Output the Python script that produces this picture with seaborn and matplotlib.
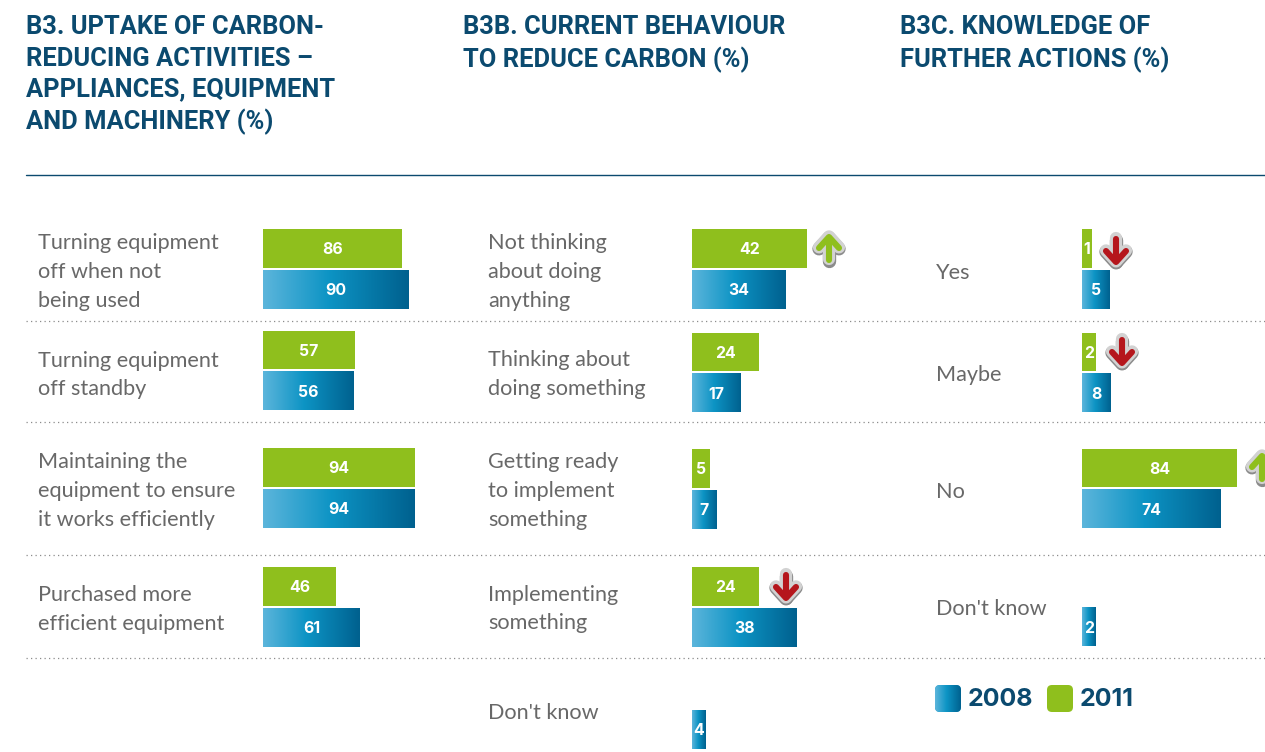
import numpy as np
import pandas as pd
import seaborn as sns
import matplotlib
matplotlib.use("Agg")
import matplotlib.pyplot as plt
from matplotlib.image import BboxImage
from matplotlib.patches import FancyBboxPatch

# ---------- data ----------
YEARS = ["2011", "2008"]

p1_title = "B3. UPTAKE OF CARBON-\nREDUCING ACTIVITIES –\nAPPLIANCES, EQUIPMENT\nAND MACHINERY (%)"
p1_labels = ["Turning equipment\noff when not\nbeing used", "Turning equipment\noff standby",
             "Maintaining the\nequipment to ensure\nit works efficiently", "Purchased more\nefficient equipment"]
p1_2011 = [86, 57, 94, 46]
p1_2008 = [90, 56, 94, 61]

p2_title = "B3B. CURRENT BEHAVIOUR\nTO REDUCE CARBON (%)"
p2_labels = ["Not thinking\nabout doing\nanything", "Thinking about\ndoing something",
             "Getting ready\nto implement\nsomething", "Implementing\nsomething", "Don't know"]
p2_2011 = [42, 24, 5, 24, None]
p2_2008 = [34, 17, 7, 38, 4]

p3_title = "B3C. KNOWLEDGE OF\nFURTHER ACTIONS (%)"
p3_labels = ["Yes", "Maybe", "No", "Don't know"]
p3_2011 = [1, 2, 84, None]
p3_2008 = [5, 8, 74, 2]

# ---------- layout (pixels) ----------
W, H = 1265, 752
GREEN = "#8fbf1d"
NAVY = "#0b4a6f"
GREY = "#686868"
RED = "#b5161c"
GRAD = np.array([[0.36, 0.71, 0.86], [0.05, 0.58, 0.77], [0.0, 0.38, 0.56]])
TITLE_FONT = "Roboto"
BODY_FONT = "Lato"

panels = [
    dict(title=p1_title, labels=p1_labels, y11=p1_2011, y08=p1_2008,
         title_x=26, label_x=38, bar_x=263,
         centers=[269, 370.5, 488, 607],
         label_y=[272, 375, 491, 609.5],
         knots=([0, 46, 56, 61, 94, 100], [0, 73, 91, 97, 152, 162])),
    dict(title=p2_title, labels=p2_labels, y11=p2_2011, y08=p2_2008,
         title_x=463, label_x=488, bar_x=692,
         centers=[269, 372.5, 489, 607, 709],
         label_y=[272, 374.5, 491, 609, 713],
         knots=([0, 4, 7, 17, 42, 100], [0, 14, 25, 49, 115, 275])),
    dict(title=p3_title, labels=p3_labels, y11=p3_2011, y08=p3_2008,
         title_x=900, label_x=936, bar_x=1082,
         centers=[269, 372.5, 488.5, 606.5],
         label_y=[273, 375, 492, 609],
         knots=([0, 1, 2, 5, 8, 74, 84, 100], [0, 10, 14, 28, 29, 139, 155, 185])),
]

sns.set_theme(style="white")
fig = plt.figure(figsize=(W / 100, H / 100), dpi=100, facecolor="white")

overlay = fig.add_axes([0, 0, 1, 1], zorder=5)
overlay.set_xlim(0, W)
overlay.set_ylim(H, 0)
overlay.set_axis_off()


def gradient():
    t = np.linspace(0, 1, 128)
    return np.stack([np.interp(t, [0, 0.45, 1], GRAD[:, c]) for c in range(3)], axis=1)[None, :, :]


def shade(ax, bbox, clip=None, zorder=3):
    img = BboxImage(bbox, interpolation="bilinear", zorder=zorder)
    img.set_data(gradient())
    ax.add_artist(img)
    if clip is not None:
        img.set_clip_path(clip)
    return img


for p in panels:
    d, px = p["knots"]
    for cy, a, b in zip(p["centers"], p["y11"], p["y08"]):
        ax = fig.add_axes([p["bar_x"] / W, 1 - (cy + 41) / H, px[-1] / W, 82 / H], zorder=2)
        df = pd.DataFrame({"year": YEARS, "value": [a, b]}).dropna()
        sns.barplot(data=df, y="year", x="value", order=YEARS, hue="year", hue_order=YEARS,
                    palette={"2011": GREEN, "2008": "#0e93c4"}, width=0.93, saturation=1,
                    legend=False, dodge=False, orient="h", linewidth=0, ax=ax)
        ax.set_xscale("function", functions=(lambda v, d=d, px=px: np.interp(v, d, px),
                                             lambda v, d=d, px=px: np.interp(v, px, d)))
        ax.set_xlim(d[0], d[-1])
        ax.set_ylim(1.5, -0.5)
        ax.set_axis_off()
        for patch in ax.patches:
            w = patch.get_width()
            if not np.isfinite(w) or w == 0:
                continue
            if abs(patch.get_y() + patch.get_height() / 2 - 1) < 0.1:
                shade(ax, patch.get_window_extent())
            ax.annotate(f"{w:.0f}", xy=(0.5, 0.47), xycoords=patch, ha="center", va="center",
                        color="white", fontsize=11.4, fontweight="bold", zorder=4,
                        family="Inter")
    overlay.text(p["title_x"], 15.5, p["title"], va="top", ha="left", color=NAVY,
                 family=TITLE_FONT, fontweight="bold", fontsize=18.4, linespacing=1.37)
    for ly, lab in zip(p["label_y"], p["labels"]):
        overlay.text(p["label_x"], ly, lab, va="center", ha="left", color=GREY,
                     family=BODY_FONT, fontsize=15.6, linespacing=1.54)

# rules
overlay.plot([26, W], [174.5, 174.5], color=NAVY, lw=1.0)
for y in [320.5, 421.5, 554.5, 657.5]:
    overlay.plot([26, W], [y, y], color="#8c8c8c", lw=0.9, ls=(0, (1, 2.6)))


def arrow(cx, cy, up, colour):
    s = -1 if up else 1
    shaft = ([cx, cx], [cy - s * 11, cy + s * 11])
    head = ([cx - 10, cx, cx + 10], [cy + s * 1, cy + s * 12, cy + s * 1])
    for dy, col, lw in [(0.8, "#8b8b8b", 9.6), (-0.6, "#d2d2d2", 8.8), (0, colour, 4.4)]:
        for xs, ys in (shaft, head):
            overlay.plot(xs, np.array(ys) + dy, color=col, lw=lw,
                         solid_capstyle="round", solid_joinstyle="round", clip_on=False)


arrow(829, 249, True, GREEN)
arrow(786, 586, False, RED)
arrow(1116, 250, False, RED)
arrow(1122, 351, False, RED)
arrow(1262, 468, True, GREEN)

# legend
for x0, year, colour in [(935, "2008", None), (1047, "2011", GREEN)]:
    box = FancyBboxPatch((x0, 685), 26, 27, boxstyle="round,pad=0,rounding_size=5",
                         fc=colour or "#0e93c4", ec="none")
    overlay.add_patch(box)
    if colour is None:
        shade(overlay, box.get_window_extent(), clip=box)
    overlay.text(x0 + 33, 700, year, va="center", ha="left", color=NAVY,
                 family="Inter", fontweight="bold", fontsize=18)

fig.savefig("out.png", dpi=100)
